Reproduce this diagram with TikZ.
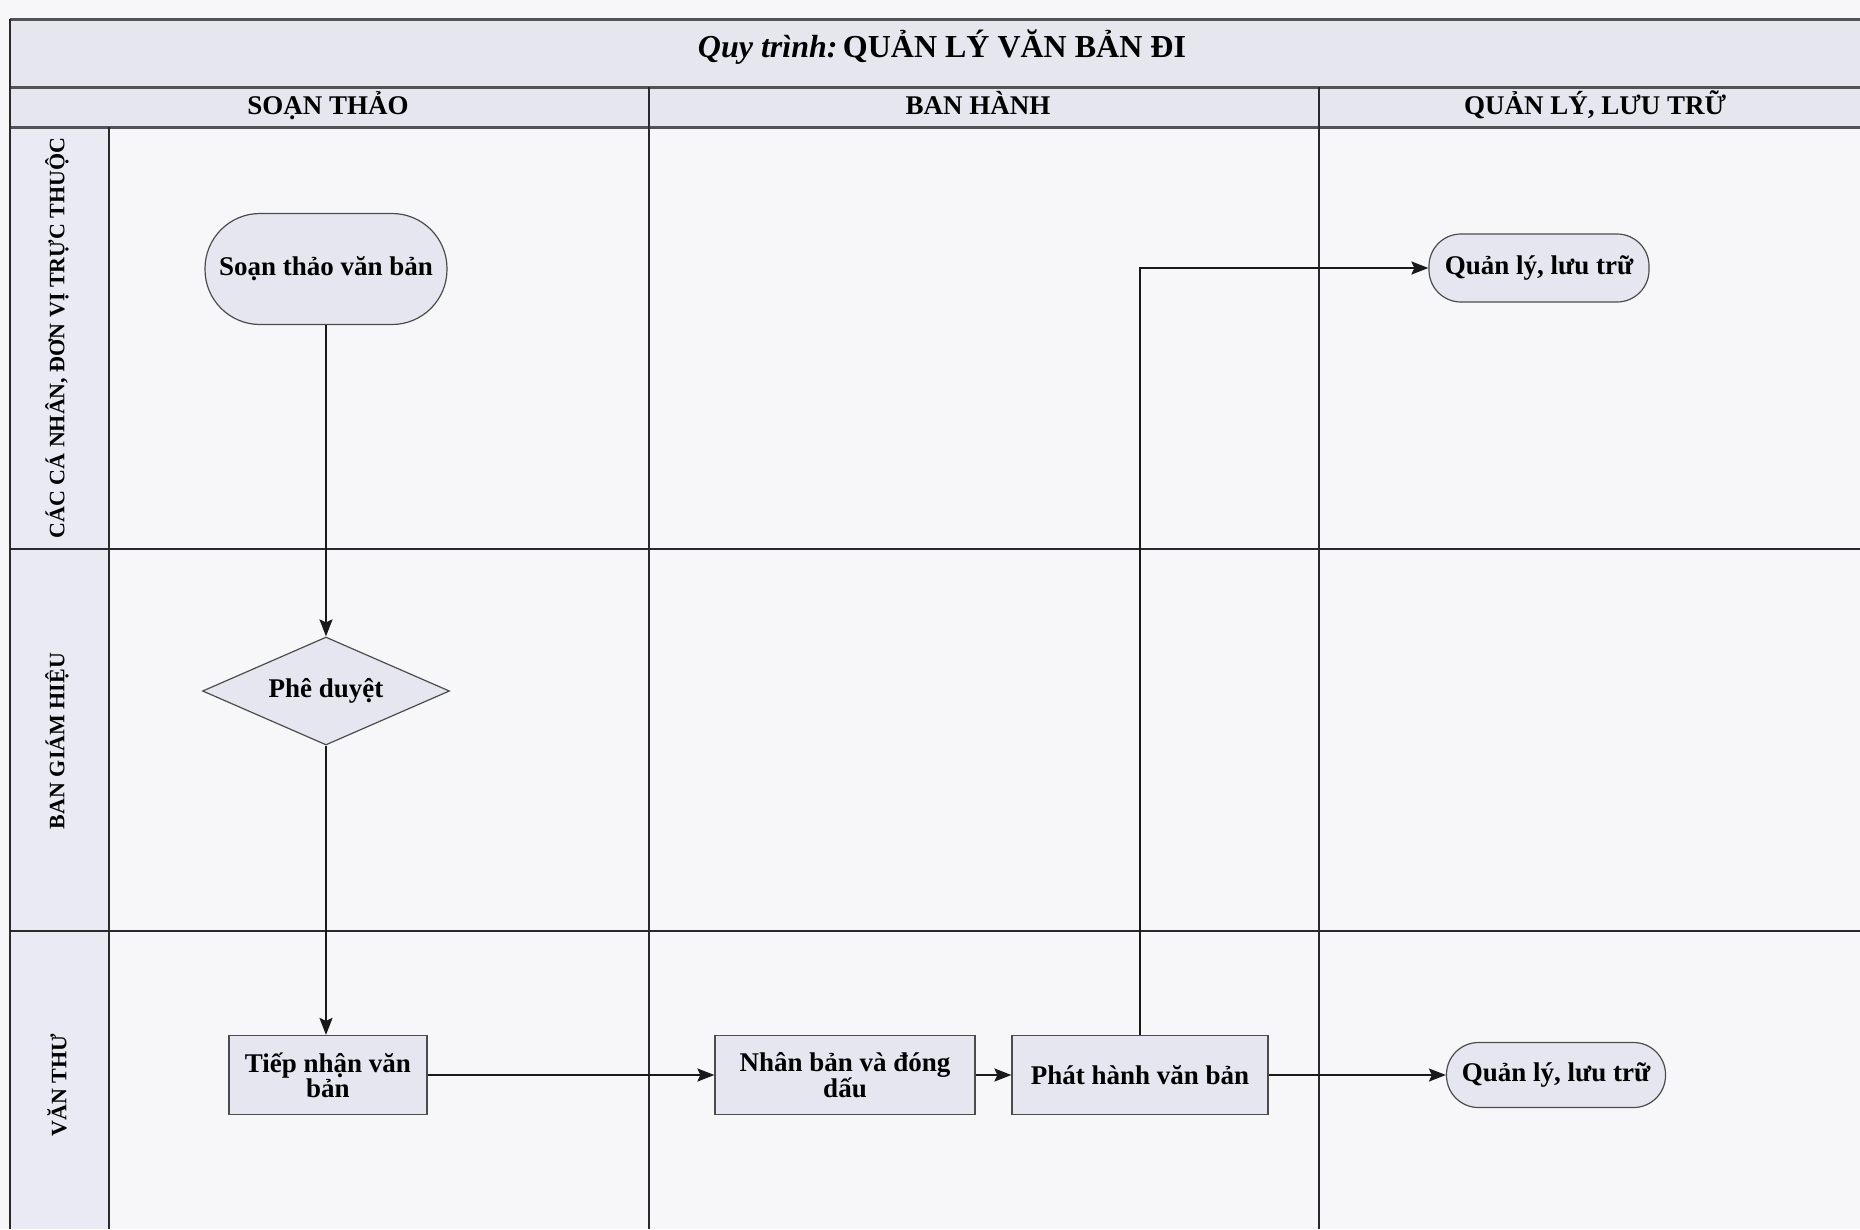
\documentclass[tikz,border=0pt]{standalone}
\usepackage{fontspec}
\setmainfont{Liberation Serif}
\usetikzlibrary{shapes.geometric,arrows.meta,calc}
\definecolor{paper}{RGB}{247,247,250}
\definecolor{rowfill}{RGB}{230,230,238}
\definecolor{lanefill}{RGB}{234,234,244}
\definecolor{nodefill}{RGB}{230,230,240}
\definecolor{frameline}{RGB}{40,40,45}
\begin{document}
\begin{tikzpicture}[x=1pt,y=-1pt,
  frame/.style={draw=frameline,line width=1.8pt},
  heavyframe/.style={draw=frameline!80,line width=3pt},
  hdr/.style={font=\fontsize{27}{30}\selectfont\bfseries,anchor=base},
  lanelbl/.style={font=\fontsize{22}{26}\selectfont\bfseries,rotate=90},
  boxbase/.style={draw=black!70,line width=1.2pt,fill=nodefill,align=center,
    font=\fontsize{27}{25}\selectfont\bfseries,inner sep=2pt},
  terminal/.style={boxbase,rounded corners=32pt},
  procbox/.style={boxbase,rectangle,minimum height=79pt},
  decision/.style={boxbase,diamond,aspect=2.3,inner sep=0pt,minimum width=247pt,minimum height=108pt},
  flow/.style={draw=black!90,line width=2.2pt,-{Stealth[length=17pt,width=13pt,inset=3pt]}}
]
\useasboundingbox (0,0) rectangle (1860,1229);
% background
\fill[paper] (0,0) rectangle (1860,1229);
\fill[rowfill] (10,19) rectangle (1860,127);
\fill[lanefill] (10,127) rectangle (109,1229);
% frame lines
\draw[heavyframe] (10,19) -- (1860,19);
\draw[heavyframe] (10,87) -- (1860,87);
\draw[heavyframe] (10,127) -- (1860,127);
\draw[frame] (10,19) -- (10,1229);
\draw[frame] (109,127) -- (109,1229);
\draw[frame] (649,87) -- (649,1229);
\draw[frame] (1319,87) -- (1319,1229);
\draw[frame] (10,549) -- (1860,549);
\draw[frame] (10,931) -- (1860,931);
% title and headers
\node[font=\fontsize{32}{36}\selectfont\bfseries,anchor=base] (title) at (942,57) {\textit{Quy trình:}\,QUẢN LÝ VĂN BẢN ĐI};
\node[hdr] (h1) at (328,114) {SOẠN THẢO};
\node[hdr] (h2) at (978,114) {BAN HÀNH};
\node[hdr] (h3) at (1595,114) {QUẢN LÝ, LƯU TRỮ};
\node[lanelbl] (l1) at (57,338) {CÁC CÁ NHÂN, ĐƠN VỊ TRỰC THUỘC};
\node[lanelbl] (l2) at (57,741) {BAN GIÁM HIỆU};
\node[lanelbl] (l3) at (57,1085) {VĂN THƯ};
% nodes
\node[terminal,minimum width=242pt,minimum height=111pt,rounded corners=55pt] (soan) at (326,269) {Soạn thảo văn bản};
\node[decision] (duyet) at (326,691) {Phê duyệt};
\node[procbox,minimum width=198pt] (tiep) at (328,1075) {Tiếp nhận văn\\bản};
\node[procbox,minimum width=260pt] (nhan) at (845,1075) {Nhân bản và đóng\\dấu};
\node[procbox,minimum width=256pt] (phat) at (1140,1075) {Phát hành văn bản};
\node[terminal,minimum width=219pt,minimum height=65pt] (ql2) at (1556,1075) {Quản lý, lưu trữ};
\node[terminal,minimum width=220pt,minimum height=68pt] (ql1) at (1539,268) {Quản lý, lưu trữ};
% connectors
\draw[flow] (soan.south) -- (duyet.north);
\draw[flow] (duyet.south) -- (duyet.south |- tiep.north);
\draw[flow] (tiep.east) -- (nhan.west);
\draw[flow] (nhan.east) -- (phat.west);
\draw[flow] (phat.east) -- (ql2.west);
\draw[flow] (phat.north) |- (ql1.west);
\end{tikzpicture}
\end{document}
